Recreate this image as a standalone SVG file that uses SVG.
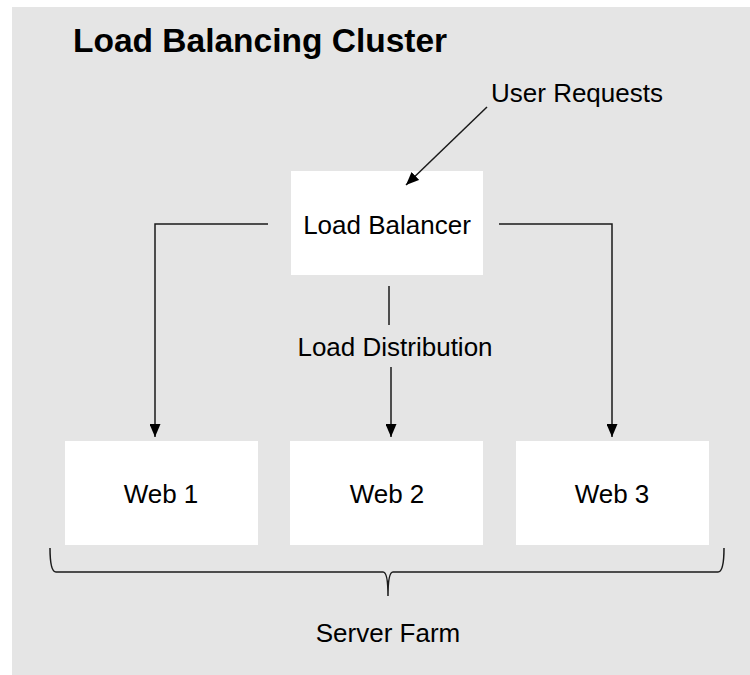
<svg xmlns="http://www.w3.org/2000/svg" width="750" height="675" viewBox="0 0 750 675">
  <defs>
    <marker id="arrow" viewBox="0 0 10 10" refX="10" refY="5" markerWidth="13" markerHeight="11" markerUnits="userSpaceOnUse" orient="auto" preserveAspectRatio="none">
      <path d="M0,0 L10,5 L0,10 Z" fill="#000"/>
    </marker>
    <style>
      .box { fill: #ffffff; }
      .label { font-family: "Liberation Sans", Arial, sans-serif; font-size: 26px; fill: #000; text-anchor: middle; }
      .title { font-family: "Liberation Sans", Arial, sans-serif; font-size: 33.5px; font-weight: bold; fill: #000; }
      .wire { fill: none; stroke: #1a1a1a; stroke-width: 1.5; }
    </style>
  </defs>

  <!-- backdrop -->
  <rect x="0" y="0" width="750" height="675" fill="#ffffff"/>
  <rect x="12" y="7" width="738" height="668" fill="#e5e5e5"/>

  <text class="title" x="73" y="52">Load Balancing Cluster</text>

  <g id="user-requests">
    <text class="label" x="577" y="102">User Requests</text>
  </g>

  <g id="load-balancer">
    <rect class="box" x="291" y="171" width="192" height="104"/>
    <text class="label" x="387" y="234">Load Balancer</text>
  </g>

  <g id="web1">
    <rect class="box" x="65" y="441" width="193" height="104"/>
    <text class="label" x="161" y="503">Web 1</text>
  </g>

  <g id="web2">
    <rect class="box" x="290" y="441" width="193" height="104"/>
    <text class="label" x="387" y="503">Web 2</text>
  </g>

  <g id="web3">
    <rect class="box" x="516" y="441" width="193" height="104"/>
    <text class="label" x="612" y="503">Web 3</text>
  </g>

  <g id="connectors">
    <!-- incoming requests -->
    <line class="wire" x1="487" y1="107" x2="406" y2="185" marker-end="url(#arrow)"/>
    <!-- balancer to web 1 -->
    <polyline class="wire" points="268,224 155,224 155,437" marker-end="url(#arrow)"/>
    <!-- balancer to web 3 -->
    <polyline class="wire" points="499,224 612,224 612,437" marker-end="url(#arrow)"/>
    <!-- balancer to web 2, split by its label -->
    <line class="wire" x1="389" y1="286" x2="389" y2="325"/>
    <line class="wire" x1="391" y1="367" x2="391" y2="437" marker-end="url(#arrow)"/>
    <text class="label" x="395" y="356">Load Distribution</text>
  </g>

  <g id="server-farm">
    <!-- curly brace spanning the three web servers -->
    <path class="wire" d="M50,548 Q50,572 56,572 L383,572 Q388,572 388,596 Q388,572 393,572 L718,572 Q724,572 724,548"/>
    <text class="label" x="388" y="642">Server Farm</text>
  </g>
</svg>
